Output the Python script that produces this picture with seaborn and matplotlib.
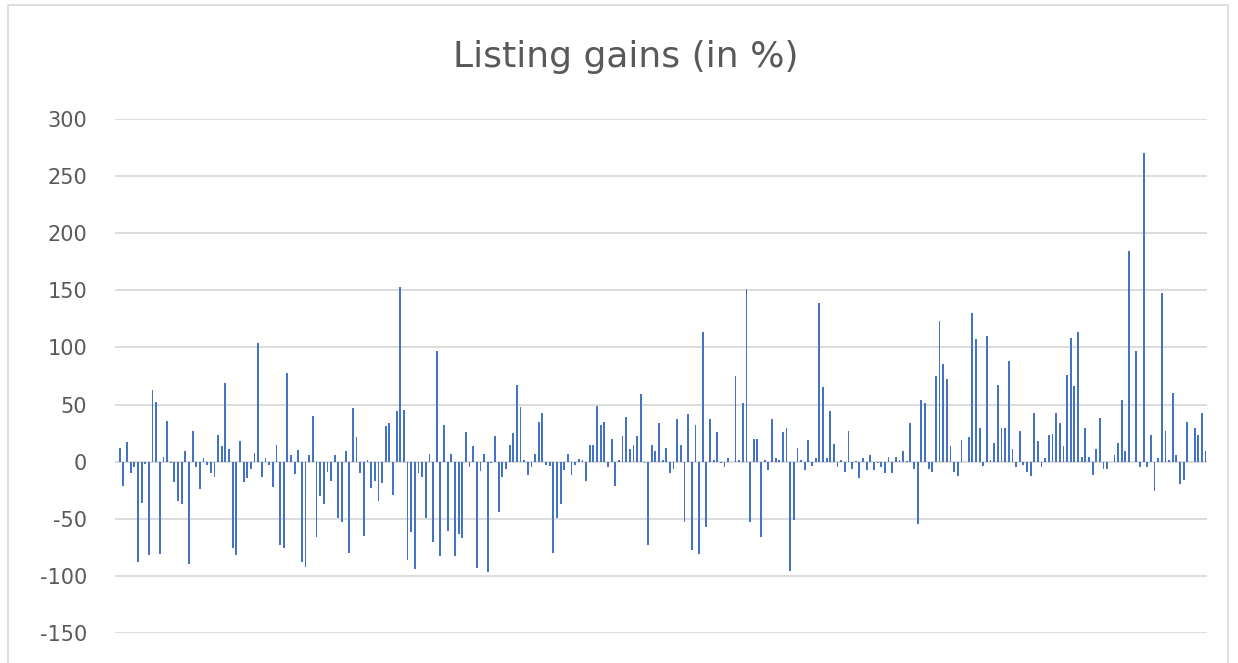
import numpy as np
import pandas as pd
import matplotlib
matplotlib.use("Agg")
import matplotlib.pyplot as plt
import seaborn as sns

title = "Listing gains (in %)"
yticks = [-150, -100, -50, 0, 50, 100, 150, 200, 250, 300]

gains = [
    12, -21, 17.5, -10, -5, -88, -36, -2, -82, 63, 52, -81, 4, 36, -1, -18, -34, -37, 9.6, -90,
    27, -5, -24, 3, -3, -10, -13, 23, 14, 68.5, 11, -76, -82, 18, -18, -14, -6, 8, 104, -13,
    3, -3, -22, 15, -73, -76, 78, 6, -11, 10, -88, -92, 5.5, 40, -66, -30, -37, -9, -17, 5.5,
    -49, -53, 9, -80, 47, 22, -10, -65, 1.5, -23, -17, -34, -19, 31, 34, -29, 44, 153, 45.5, -86,
    -62, -94, -10, -13, -49, 7, -70, 96.5, -82.5, 32, -61, 7, -82.5, -63.5, -67, 25.7, -4.7, 13.7, -93, -8,
    6.4, -97, -1, 22.5, -44, -13.4, -6.4, 14.6, 25, 66.8, 47.5, 1.2, -12, -5, 6.4, 34.7, 42.9, -2.6, -3.8, -80,
    -49, -37, -7.6, 6.4, -12, -2.6, 2.6, 1.2, -17, 14.6, 14.6, 49, 32, 34.7, -5, 19.5, -21, 1.2, 22.5, 38.8,
    10.8, 14.6, 22.5, 59, -1.2, -73, 14.6, 9.6, 33.8, 1.7, 12, -10, -6, 37.6, 15, -53, 41.7, -77, 32, -81,
    113.7, -57, 37.6, 1.7, 25.7, -1.2, -4.7, 2.9, -0.6, 75, 1.7, 51, 151, -53, 20, 20, -66, 1.5, -7.6, 37.6,
    2.9, 1.5, 25.7, 29.7, -95.6, -51, 12, 1.5, -7.6, 19, -3.5, 2.9, 139, 65.6, 2.9, 44, 15.5, -5, 1.5, -8.7,
    27, -6, 0.5, -14, 2.9, -7.6, 5.8, -7.6, -1, -5, -10, 4, -10, 4, 1.5, 9.6, 0.5, 34, -6, -54.5,
    53.6, 51, -6, -8.7, 75, 123, 85.7, 72.3, 13.7, -8.7, -12.8, 19, -0.6, 21.9, 130, 107, 29.7, -3.5, 110, 1.7,
    16.3, 67, 29.7, 29.7, 88, 11, -4.7, 27, -3.2, -8.7, -12.8, 43, 17.8, -4.7, 3.2, 23.3, 24.5, 43, 33.8, 14,
    76, 108.5, 66, 113.7, 4.4, 29.7, 4.4, -11.4, 11, 37.9, -6, -6, -0.6, 6, 16.3, 54, 9.6, 184.5, -0.6, 96.5,
    -5, 270, -5, 23.3, -26, 3.2, 147.5, 27, 1.5, 60, 5.8, -19.5, -15.7, 35, -0.6, 29.7, 23.3, 43, 9.6,
]

df = pd.DataFrame({"idx": np.arange(len(gains)), "gain": gains})

sns.set_theme(style="white")
plt.rcParams['font.family'] = ['DejaVu Sans']

W, H = 1238, 663
fig = plt.figure(figsize=(W / 100, H / 100), dpi=100)
ax = fig.add_axes([115 / W, 1 - 633 / H, (1207 - 115) / W, (633 - 119) / H])

sns.barplot(data=df, x="idx", y="gain", color="#4472C4", width=0.5,
            saturation=1, ax=ax, zorder=3, linewidth=0)

ax.set_ylim(-150, 300)
ax.set_xlim(-1.3, len(gains) - 0.6)
ax.set_yticks(yticks)
ax.set_yticklabels([str(v) for v in yticks])
ax.set_xticks([])
ax.set_xlabel("")
ax.set_ylabel("")
for s in ax.spines.values():
    s.set_visible(False)
ax.grid(False)
for v in yticks:
    ax.axhline(v, color="#D9D9D9", lw=1.3, zorder=1)
ax.tick_params(axis="y", length=0, pad=20, labelsize=15, labelcolor="#595959")

fig.text(626 / W, 1 - 57 / H, title, ha="center", va="center",
         fontsize=26, color="#595959")

# chart border
border = plt.Rectangle((8 / W, -0.01), (1228 - 8) / W, 1 - 5 / H + 0.01,
                       transform=fig.transFigure, fill=False,
                       edgecolor="#D9D9D9", lw=1.2)
fig.patches.append(border)

fig.savefig("out.png", dpi=100)
